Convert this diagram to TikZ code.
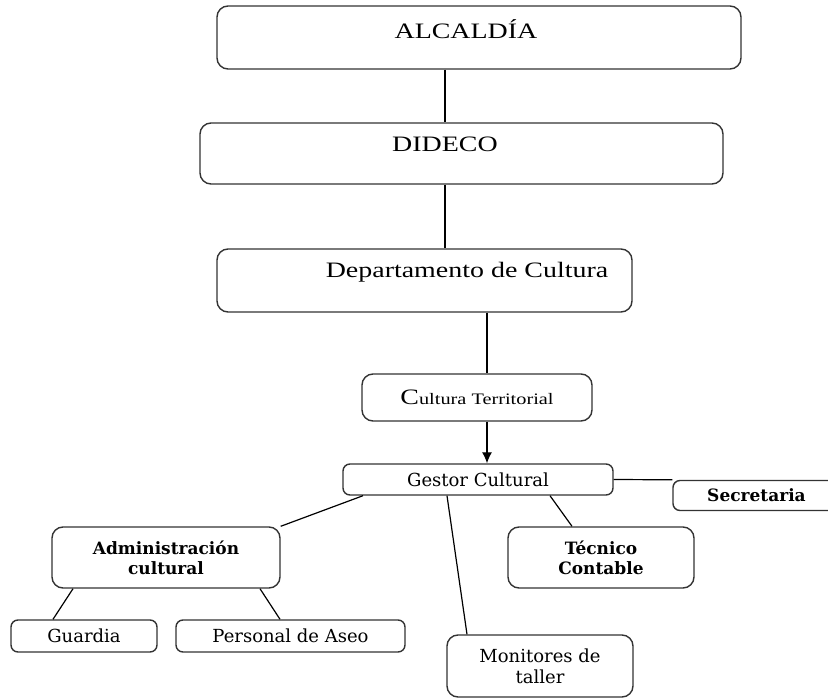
\documentclass[tikz,border=0pt]{standalone}
\usepackage{fontspec}
\usetikzlibrary{arrows.meta}
\setmainfont{Liberation Serif}
\newfontfamily\serifancha[FakeStretch=1.27]{Liberation Serif}
\newfontfamily\serifgruesa{DejaVu Serif}

\begin{document}
\begin{tikzpicture}
		[
		x=1pt, y=-1pt, >={Latex[length=11pt, width=10pt]},
		%Voreinstellung für Kästen
		caja/.style={draw=black!80, line width=1.4pt, rounded corners=11pt, fill=white, inner sep=0pt, align=center},
		cajita/.style={caja, rounded corners=7pt},
		arriba/.style={font=\serifancha\fontsize{22}{24}\selectfont},
		abajo/.style={font=\serifgruesa\fontsize{18}{21}\selectfont},
		negrita/.style={font=\serifgruesa\bfseries\fontsize{17}{20}\selectfont},
		linea/.style={line width=1.2pt}
		]
		
		%Rahmen
		\useasboundingbox (0,0) rectangle (828,698);
		\clip (0,0) rectangle (828,698);
		
		%obere Ebenen
		\node[caja, minimum width=524pt, minimum height=63pt,
		label={[arriba, name=alcaldia-t, xshift=-13pt, yshift=8pt]center:ALCALDÍA}] (alcaldia) at (479,37.5) {};
		\node[caja, minimum width=523pt, minimum height=61pt,
		label={[arriba, name=dideco-t, xshift=-16.5pt, yshift=9.5pt]center:DIDECO}] (dideco) at (461.5,153.5) {};
		\node[caja, minimum width=415pt, minimum height=63pt,
		label={[arriba, name=dpto-t, xshift=42.5pt, yshift=8.5pt]center:Departamento de Cultura}] (dpto) at (424.5,280.5) {};
		
		%Cultura Territorial
		\node[caja, minimum width=230pt, minimum height=47pt, font=\serifancha] (cterr) at (477,397.5)
		{{\fontsize{22}{24}\selectfont C}{\fontsize{16}{18}\selectfont ultura Territorial}};
		
		%Gestor und Secretaria
		\node[cajita, abajo, minimum width=270pt, minimum height=31pt] (gestor) at (478,479.5) {Gestor Cultural};
		\node[cajita, negrita, minimum width=167pt, minimum height=30pt] (secretaria) at (756.5,495.5) {Secretaria};
		
		%untere Ebene
		\node[caja, negrita, minimum width=228pt, minimum height=61pt] (admin) at (166,557.5) {Administración\\cultural};
		\node[caja, negrita, minimum width=186pt, minimum height=61pt] (tecnico) at (601,557.5) {Técnico\\Contable};
		\node[cajita, abajo, minimum width=146pt, minimum height=32pt] (guardia) at (84,636) {Guardia};
		\node[cajita, abajo, minimum width=229pt, minimum height=32pt] (personal) at (290.5,636) {Personal de Aseo};
		\node[caja, abajo, minimum width=186pt, minimum height=62pt] (monitores) at (540,666) {Monitores de\\taller};
		
		%Verbindungen
		\coordinate (eje) at (487,0);
		\draw[linea] (alcaldia.south -| dideco-t) -- (dideco.north -| dideco-t);
		\draw[linea] (dideco.south -| dideco-t) -- (dpto.north -| dideco-t);
		\draw[linea] (dpto.south -| eje) -- (cterr.north -| eje);
		\draw[linea, ->] (cterr.south -| eje) -- (gestor.north -| eje);
		\draw[linea] (gestor.east) -- (secretaria.north west);
		\draw[linea] ([xshift=-115pt]gestor.south) -- (admin.north east);
		\draw[linea] ([xshift=-31pt]gestor.south) -- ([xshift=-73pt]monitores.north);
		\draw[linea] ([xshift=72pt]gestor.south) -- ([xshift=-29pt]tecnico.north);
		\draw[linea] ([xshift=-93pt]admin.south) -- ([xshift=-31pt]guardia.north);
		\draw[linea] ([xshift=94pt]admin.south) -- ([xshift=-10.5pt]personal.north);
	\end{tikzpicture}
\end{document}
